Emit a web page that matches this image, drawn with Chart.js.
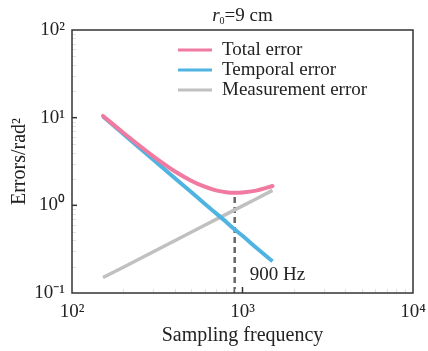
<!DOCTYPE html>
<html>
<head>
<meta charset="utf-8">
<script src="https://cdn.jsdelivr.net/npm/chart.js@4"></script>
<style>
  html, body { margin: 0; padding: 0; background: #fff; }
</style>
</head>
<body>
<canvas id="myChart" width="428" height="351"></canvas>
<script>
// values
const freq = [152, 200, 300, 400, 500, 600, 700, 800, 900, 1000, 1200, 1500];
const totalErr = [10.45, 6.72, 3.62, 2.45, 1.91, 1.63, 1.48, 1.41, 1.39, 1.40, 1.47, 1.66];
const temporalErr = [10.3, 6.52, 3.32, 2.05, 1.42, 1.04, 0.81, 0.65, 0.53, 0.45, 0.33, 0.23];
const measureErr = [0.150, 0.197, 0.296, 0.395, 0.493, 0.592, 0.691, 0.789, 0.888, 0.987, 1.18, 1.48];
const markFreq = [900, 900];
const markErr = [0.1, 1.33];
const xTicks = [100, 1000, 10000];
const yTicks = [0.1, 1, 10, 100];
const seriesNames = ['Total error', 'Temporal error', 'Measurement error'];

const serif = "'Liberation Serif', 'Times New Roman', serif";
const sup = { '-1': '⁻¹', '0': '⁰', '1': '¹', '2': '²', '3': '³', '4': '⁴' };
const pink = 'rgb(240,122,160)';
const blue = 'rgb(80,180,225)';
const grey = 'rgb(192,192,192)';

function pts(xs, ys) {
  return xs.map((x, i) => ({ x: x, y: ys[i] }));
}

function powLabel(v) {
  return '10' + sup[String(Math.round(Math.log10(v)))];
}

const extras = {
  id: 'extras',
  afterDraw(chart) {
    const c = chart.ctx;
    const a = chart.chartArea;
    const xs = chart.scales.x;
    const ys = chart.scales.y;
    c.save();

    // minor ticks (faint)
    c.strokeStyle = '#e2e2e2';
    c.lineWidth = 1;
    for (let d = 0.1; d < 100; d *= 10) {
      for (let k = 2; k < 10; k++) {
        const py = Math.round(ys.getPixelForValue(d * k)) + 0.5;
        c.beginPath(); c.moveTo(a.left, py); c.lineTo(a.left + 4, py); c.stroke();
      }
    }
    for (let d = 100; d < 10000; d *= 10) {
      for (let k = 2; k < 10; k++) {
        const px = Math.round(xs.getPixelForValue(d * k)) + 0.5;
        c.beginPath(); c.moveTo(px, a.bottom); c.lineTo(px, a.bottom - 4); c.stroke();
      }
    }

    // major ticks, pointing inward
    c.strokeStyle = '#333';
    c.lineWidth = 1.5;
    [1, 10].forEach(v => {
      const py = ys.getPixelForValue(v);
      c.beginPath(); c.moveTo(a.left, py); c.lineTo(a.left + 5, py); c.stroke();
    });
    const px3 = xs.getPixelForValue(1000);
    c.beginPath(); c.moveTo(px3, a.bottom); c.lineTo(px3, a.bottom - 6); c.stroke();

    // frame
    c.strokeRect(a.left, a.top, a.right - a.left, a.bottom - a.top);

    // title r0=9 cm
    c.fillStyle = '#222';
    c.textBaseline = 'alphabetic';
    const f1 = 'italic 19px ' + serif;
    const f2 = '10px ' + serif;
    const f3 = '19px ' + serif;
    c.font = f1; const w1 = c.measureText('r').width;
    c.font = f2; const w2 = c.measureText('0').width;
    c.font = f3; const w3 = c.measureText('=9 cm').width;
    let tx = (a.left + a.right) / 2 - (w1 + w2 + w3) / 2;
    const ty = 21;
    c.font = f1; c.fillText('r', tx, ty); tx += w1;
    c.font = f2; c.fillText('0', tx, ty + 3); tx += w2;
    c.font = f3; c.fillText('=9 cm', tx, ty);

    // legend
    const cols = [pink, blue, grey];
    c.font = '19px ' + serif;
    c.textBaseline = 'middle';
    seriesNames.forEach((name, i) => {
      const ly = 50 + i * 20;
      c.strokeStyle = cols[i];
      c.lineWidth = 3;
      c.beginPath(); c.moveTo(178, ly); c.lineTo(212, ly); c.stroke();
      c.fillStyle = '#222';
      c.fillText(name, 222, ly);
    });

    // 900 Hz label
    c.font = '19px ' + serif;
    c.fillText('900 Hz', xs.getPixelForValue(markFreq[0]) + 15, 275);
    c.restore();
  }
};

new Chart(document.getElementById('myChart'), {
  type: 'line',
  data: {
    datasets: [
      { label: seriesNames[0], data: pts(freq, totalErr), borderColor: pink, borderWidth: 4,
        pointRadius: 0, cubicInterpolationMode: 'monotone', borderCapStyle: 'round' },
      { label: seriesNames[1], data: pts(freq, temporalErr), borderColor: blue, borderWidth: 4,
        pointRadius: 0, cubicInterpolationMode: 'monotone' },
      { label: seriesNames[2], data: pts(freq, measureErr), borderColor: grey, borderWidth: 3.5,
        pointRadius: 0 },
      { label: 'optimum', data: pts(markFreq, markErr), borderColor: '#666', borderWidth: 2.5,
        borderDash: [6, 4], pointRadius: 0 }
    ]
  },
  options: {
    responsive: false,
    animation: false,
    layout: { padding: { top: 30, right: 15, left: 0, bottom: 0 } },
    plugins: { legend: { display: false }, tooltip: { enabled: false } },
    scales: {
      x: {
        type: 'logarithmic', min: 100, max: 10000,
        grid: { display: false, drawTicks: false },
        border: { display: false },
        afterBuildTicks: s => { s.ticks = xTicks.map(v => ({ value: v })); },
        afterFit: s => { s.height = 58; s.paddingLeft = 0; s.paddingRight = 0; },
        ticks: { callback: v => powLabel(v), color: '#222', padding: 8,
                 maxRotation: 0, font: { family: serif, size: 19 } },
        title: { display: true, text: 'Sampling frequency', color: '#222',
                 padding: { top: 0, bottom: 3 }, font: { family: serif, size: 20 } }
      },
      y: {
        type: 'logarithmic', min: 0.1, max: 100,
        grid: { display: false, drawTicks: false },
        border: { display: false },
        afterBuildTicks: s => { s.ticks = yTicks.map(v => ({ value: v })); },
        afterFit: s => { s.width = 72; s.paddingTop = 0; s.paddingBottom = 0; },
        ticks: { callback: v => powLabel(v), color: '#222', padding: 7,
                 font: { family: serif, size: 19 } },
        title: { display: true, text: 'Errors/rad²', color: '#222',
                 padding: { top: 8, bottom: 0 }, font: { family: serif, size: 20 } }
      }
    }
  },
  plugins: [extras]
});
</script>
</body>
</html>
